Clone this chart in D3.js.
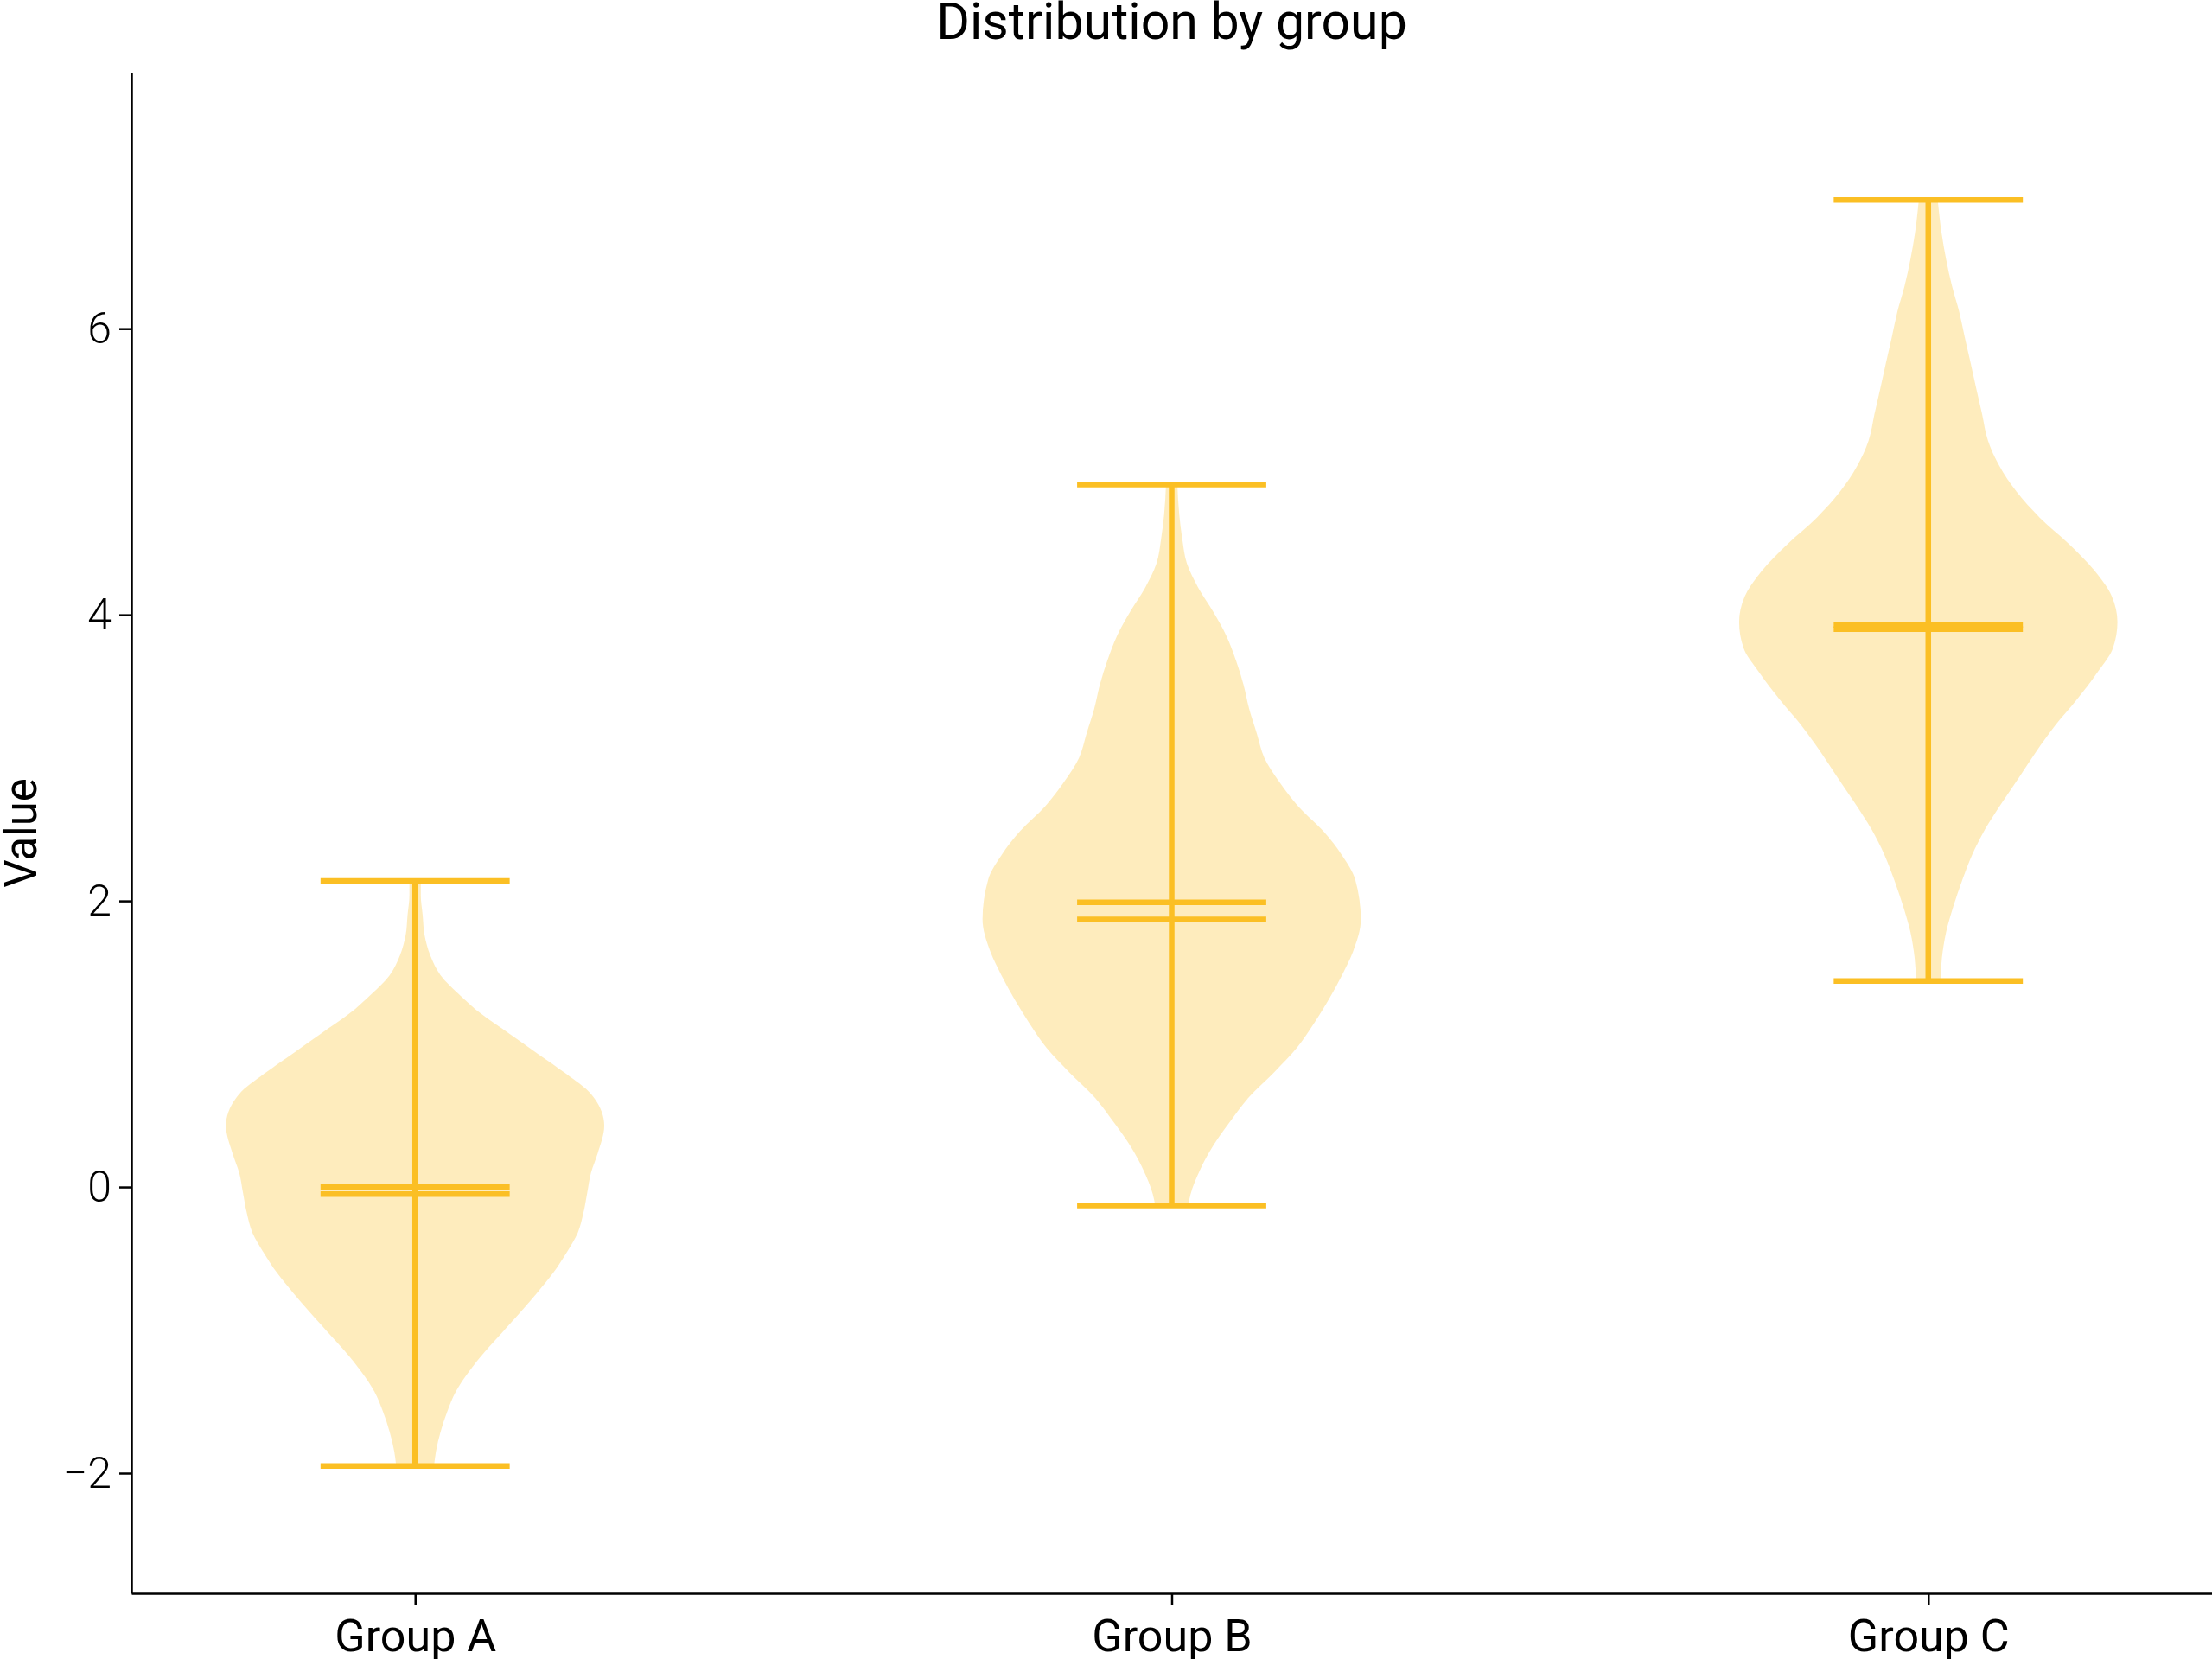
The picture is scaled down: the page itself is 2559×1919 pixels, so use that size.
<!DOCTYPE html>
<html>
<head>
<meta charset="utf-8">
<script src="https://cdn.jsdelivr.net/npm/d3@7"></script>
<style>
  body { margin: 0; background: #fff; }
  svg { display: block; font-family: Roboto, "Open Sans", sans-serif; }
</style>
</head>
<body>
<svg id="chart"></svg>
<script>
// categories and summary stats
const groups = ["Group A", "Group B", "Group C"];
const positions = [1, 2, 3];
const yTicks = [-2, 0, 2, 4, 6];
const mins = [-1.95, -0.13, 1.44];
const maxs = [2.14, 4.91, 6.90];
const means = [0.00, 1.99, 3.93];
const medians = [-0.05, 1.87, 3.90];

// density profiles: [value, relative half-width]
const densityA = [
  [2.14, 0.03], [2.04, 0.03], [1.90, 0.04], [1.76, 0.05], [1.62, 0.08], [1.48, 0.135],
  [1.35, 0.23], [1.21, 0.35], [1.07, 0.50], [0.93, 0.65], [0.79, 0.80], [0.65, 0.93],
  [0.43, 1.00], [0.235, 0.965], [0.10, 0.93], [-0.04, 0.91], [-0.18, 0.89], [-0.32, 0.86],
  [-0.46, 0.80], [-0.60, 0.73], [-0.74, 0.645], [-0.87, 0.56], [-1.01, 0.465], [-1.15, 0.37],
  [-1.29, 0.285], [-1.43, 0.215], [-1.57, 0.17], [-1.71, 0.135], [-1.85, 0.11], [-1.95, 0.10]
];
const densityB = [
  [4.91, 0.03], [4.70, 0.04], [4.53, 0.056], [4.36, 0.08], [4.19, 0.14], [4.02, 0.22],
  [3.85, 0.29], [3.68, 0.34], [3.51, 0.38], [3.34, 0.41], [3.17, 0.45], [3.00, 0.49],
  [2.83, 0.57], [2.66, 0.67], [2.49, 0.80], [2.32, 0.90], [2.15, 0.97], [1.87, 1.00],
  [1.65, 0.96], [1.48, 0.90], [1.31, 0.83], [1.14, 0.75], [0.97, 0.66], [0.80, 0.54],
  [0.63, 0.41], [0.46, 0.31], [0.29, 0.22], [0.12, 0.15], [-0.05, 0.10], [-0.13, 0.087]
];
const densityC = [
  [6.90, 0.05], [6.67, 0.07], [6.48, 0.095], [6.30, 0.125], [6.12, 0.163], [5.94, 0.193],
  [5.76, 0.224], [5.58, 0.254], [5.40, 0.285], [5.22, 0.315], [5.04, 0.376], [4.86, 0.467],
  [4.68, 0.589], [4.50, 0.74], [4.31, 0.878], [4.13, 0.97], [3.95, 1.00], [3.77, 0.977],
  [3.59, 0.89], [3.41, 0.787], [3.23, 0.673], [3.05, 0.574], [2.87, 0.483], [2.69, 0.391],
  [2.50, 0.30], [2.32, 0.231], [2.14, 0.178], [1.96, 0.132], [1.78, 0.094], [1.60, 0.072],
  [1.44, 0.064]
];
const densities = [densityA, densityB, densityC];

const width = 2559;
const height = 1919;
const margin = { top: 84, right: 0, bottom: 76, left: 152 };
const lineColor = "#fbbf24";
const violinHalf = 0.25;
const capHalf = 0.125;

const svg = d3.select("#chart")
  .attr("width", width)
  .attr("height", height);

const x = d3.scaleLinear()
  .domain([0.625, 3.375])
  .range([margin.left, width - margin.right]);

const y = d3.scaleLinear()
  .domain([-2.84, 7.79])
  .range([height - margin.bottom, margin.top]);

// violin bodies (points go top to bottom, so monotone in y)
const area = d3.area()
  .curve(d3.curveMonotoneY)
  .y(d => y(d[0]));

densities.forEach((dens, i) => {
  const p = positions[i];
  svg.append("path")
    .datum(dens)
    .attr("d", area
      .x0(d => x(p - violinHalf * d[1]))
      .x1(d => x(p + violinHalf * d[1])))
    .attr("fill", lineColor)
    .attr("fill-opacity", 0.3)
    .attr("stroke", "none");
});

// stems
svg.selectAll(".stem")
  .data(positions)
  .enter()
  .append("line")
  .attr("class", "stem")
  .attr("x1", d => x(d))
  .attr("x2", d => x(d))
  .attr("y1", (d, i) => y(maxs[i]))
  .attr("y2", (d, i) => y(mins[i]))
  .attr("stroke", lineColor)
  .attr("stroke-width", 6.5);

// caps, means and medians
const hLines = [];
positions.forEach((p, i) => {
  [maxs[i], mins[i], means[i], medians[i]].forEach(v => hLines.push({ p: p, v: v }));
});

svg.selectAll(".hline")
  .data(hLines)
  .enter()
  .append("line")
  .attr("class", "hline")
  .attr("x1", d => x(d.p - capHalf))
  .attr("x2", d => x(d.p + capHalf))
  .attr("y1", d => y(d.v))
  .attr("y2", d => y(d.v))
  .attr("stroke", lineColor)
  .attr("stroke-width", 6.5);

// axes
const yAxis = d3.axisLeft(y)
  .tickValues(yTicks)
  .tickFormat(d3.format("d"))
  .tickSize(14)
  .tickSizeOuter(0)
  .tickPadding(9);

const xAxis = d3.axisBottom(x)
  .tickValues(positions)
  .tickFormat((d, i) => groups[i])
  .tickSize(14)
  .tickSizeOuter(0)
  .tickPadding(16);

const gy = svg.append("g")
  .attr("transform", `translate(${margin.left}, 0)`)
  .call(yAxis);

const gx = svg.append("g")
  .attr("transform", `translate(0, ${height - margin.bottom})`)
  .call(xAxis);

[gx, gy].forEach(g => {
  g.selectAll("path, line").attr("stroke", "#000").attr("stroke-width", 2.5);
  g.selectAll("text")
    .attr("fill", "#000")
    .style("font-family", "Roboto, sans-serif");
});
gy.selectAll("text").style("font-size", "50px").style("font-weight", 300);
gx.selectAll("text").style("font-size", "52px");

// labels
svg.append("text")
  .attr("transform", "rotate(-90)")
  .attr("x", -(margin.top + height - margin.bottom) / 2)
  .attr("y", 42)
  .attr("text-anchor", "middle")
  .style("font-size", "51px")
  .text("Value");

svg.append("text")
  .attr("x", (margin.left + width - margin.right) / 2)
  .attr("y", 45)
  .attr("text-anchor", "middle")
  .style("font-size", "59px")
  .text("Distribution by group");
</script>
</body>
</html>
